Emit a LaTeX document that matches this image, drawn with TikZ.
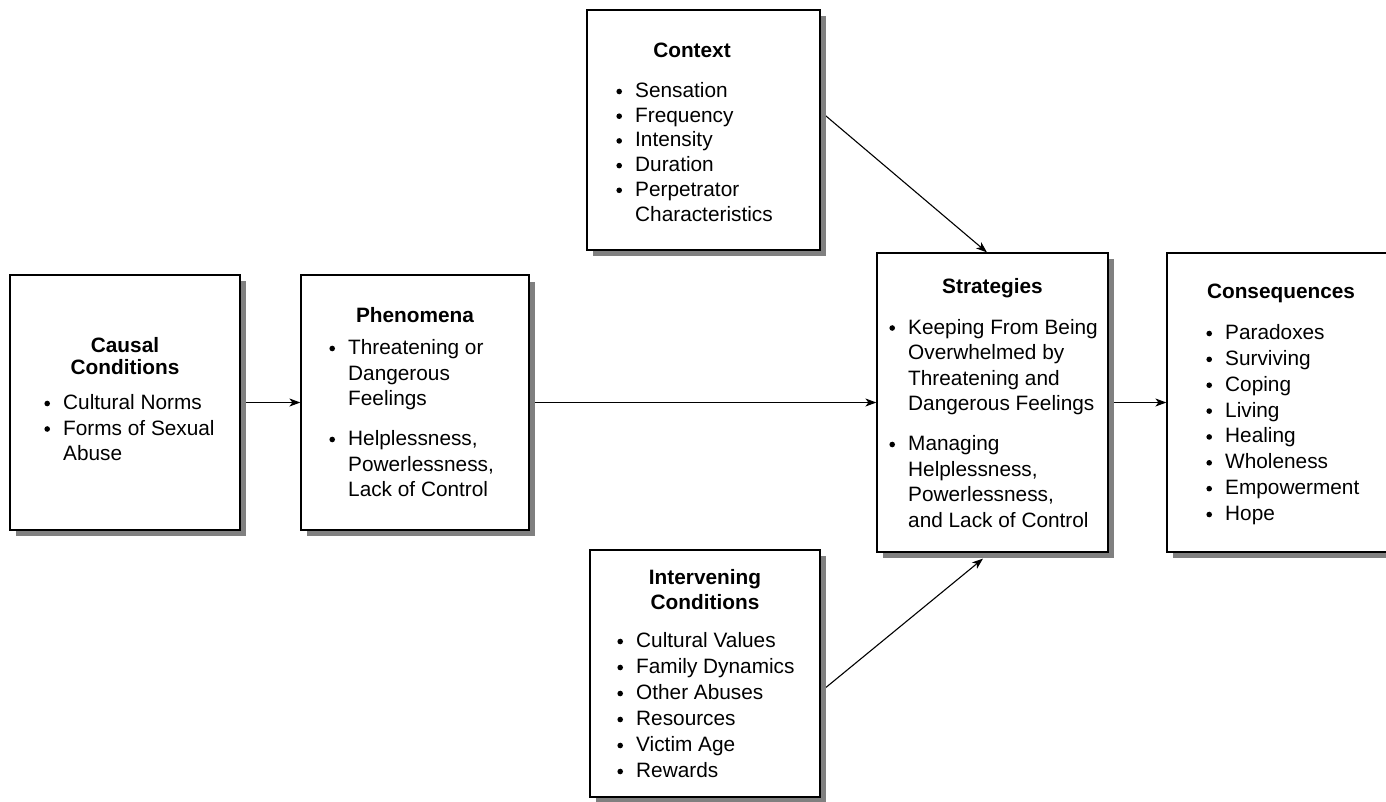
\documentclass[tikz,border=0pt]{standalone}
\usepackage{fontspec}
\setmainfont{Liberation Sans}
\usetikzlibrary{arrows.meta,calc,backgrounds}

% bullet centred 16pt left of the item text
\newcommand\bul{\makebox[16pt][l]{\hspace{-2.8pt}\tikz[baseline=0pt]\fill[black] (0pt,6pt) circle (2.8pt);}}
\newcommand\cont{\hspace*{16pt}}

\tikzset{
  box/.style={draw=black, line width=1.2pt, fill=white, inner sep=0pt},
  boxshade/.style={fill=black!50, draw=none},
  flow/.style={line width=1.1pt, -{Stealth[length=11pt,width=8pt,inset=3pt]}},
  txt/.style={inner sep=0pt, font=\fontsize{20.8pt}{#1}\selectfont},
  txt/.default=25.5pt,
  head/.style={inner sep=0pt, anchor=base, font=\fontsize{20.8pt}{#1}\selectfont\bfseries},
  head/.default=25pt,
  items/.style={anchor=base west}
}

\begin{document}
\begin{tikzpicture}[x=1pt,y=-1pt]
\useasboundingbox (0,0) rectangle (1386,801);
\clip (0,0) rectangle (1386,801);

% drop shadows
\fill[boxshade] (16,281) rectangle (246,536);
\fill[boxshade] (307,282) rectangle (535,536);
\fill[boxshade] (593,16) rectangle (826,256);
\fill[boxshade] (883,259) rectangle (1114,558);
\fill[boxshade] (1173,259) rectangle (1401,558);
\fill[boxshade] (596,556) rectangle (826,803);

% boxes
\node[box, minimum width=230pt, minimum height=255pt] (causal) at (125,402.5) {};
\node[box, minimum width=228pt, minimum height=255pt] (phen) at (415,402.5) {};
\node[box, minimum width=233pt, minimum height=240pt] (context) at (703.5,130) {};
\node[box, minimum width=231pt, minimum height=299pt] (strat) at (992.5,402.5) {};
\node[box, minimum width=228pt, minimum height=299pt] (conseq) at (1281,402.5) {};
\node[box, minimum width=230pt, minimum height=247pt] (interv) at (705,673.5) {};

% connectors
\begin{pgfonlayer}{background}
\draw[flow] (causal.east) -- (phen.west);
\draw[flow] (phen.east) -- (strat.west);
\draw[flow] (strat.east) -- (conseq.west);
\draw[flow] (context.9.7) -- ($(strat.north)+(-5.5pt,0pt)$);
\draw[flow] (interv.-9.6) -- ($(strat.south)+(-9.5pt,-6pt)$);
\end{pgfonlayer}

% Causal Conditions
\node[head=22pt] (causalT) at (125,352.5) {\begin{tabular}[t]{@{}c@{}}Causal\\Conditions\end{tabular}};
\node[txt, items] (causalL) at (47,409.5) {\begin{tabular}[t]{@{}l@{}}\bul Cultural Norms\\ \bul Forms of Sexual\\ \cont Abuse\end{tabular}};

% Phenomena
\node[head] (phenT) at (415,322) {Phenomena};
\node[txt, items] (phenL) at (332,354.5) {\begin{tabular}[t]{@{}l@{}}\bul Threatening or\\ \cont Dangerous\\ \cont Feelings\\[14.5pt] \bul Helplessness,\\ \cont Powerlessness,\\ \cont Lack of Control\end{tabular}};

% Context
\node[head] (contextT) at (692,57.5) {Context};
\node[txt=24.7pt, items] (contextL) at (619,97.5) {\begin{tabular}[t]{@{}l@{}}\bul Sensation\\ \bul Frequency\\ \bul Intensity\\ \bul Duration\\ \bul Perpetrator\\ \cont Characteristics\end{tabular}};

% Strategies
\node[head] (stratT) at (992.5,293.5) {Strategies};
\node[txt, items] (stratL) at (892,334) {\begin{tabular}[t]{@{}l@{}}\bul Keeping From Being\\ \cont Overwhelmed by\\ \cont Threatening and\\ \cont Dangerous Feelings\\[14.5pt] \bul Managing\\ \cont Helplessness,\\ \cont Powerlessness,\\ \cont and Lack of Control\end{tabular}};

% Consequences
\node[head] (conseqT) at (1281,298) {Consequences};
\node[txt=25.86pt, items] (conseqL) at (1209,339.5) {\begin{tabular}[t]{@{}l@{}}\bul Paradoxes\\ \bul Surviving\\ \bul Coping\\ \bul Living\\ \bul Healing\\ \bul Wholeness\\ \bul Empowerment\\ \bul Hope\end{tabular}};

% Intervening Conditions
\node[head] (intervT) at (705,584.5) {\begin{tabular}[t]{@{}c@{}}Intervening\\Conditions\end{tabular}};
\node[txt=26pt, items] (intervL) at (620,647.5) {\begin{tabular}[t]{@{}l@{}}\bul Cultural Values\\ \bul Family Dynamics\\ \bul Other Abuses\\ \bul Resources\\ \bul Victim Age\\ \bul Rewards\end{tabular}};
\end{tikzpicture}
\end{document}
